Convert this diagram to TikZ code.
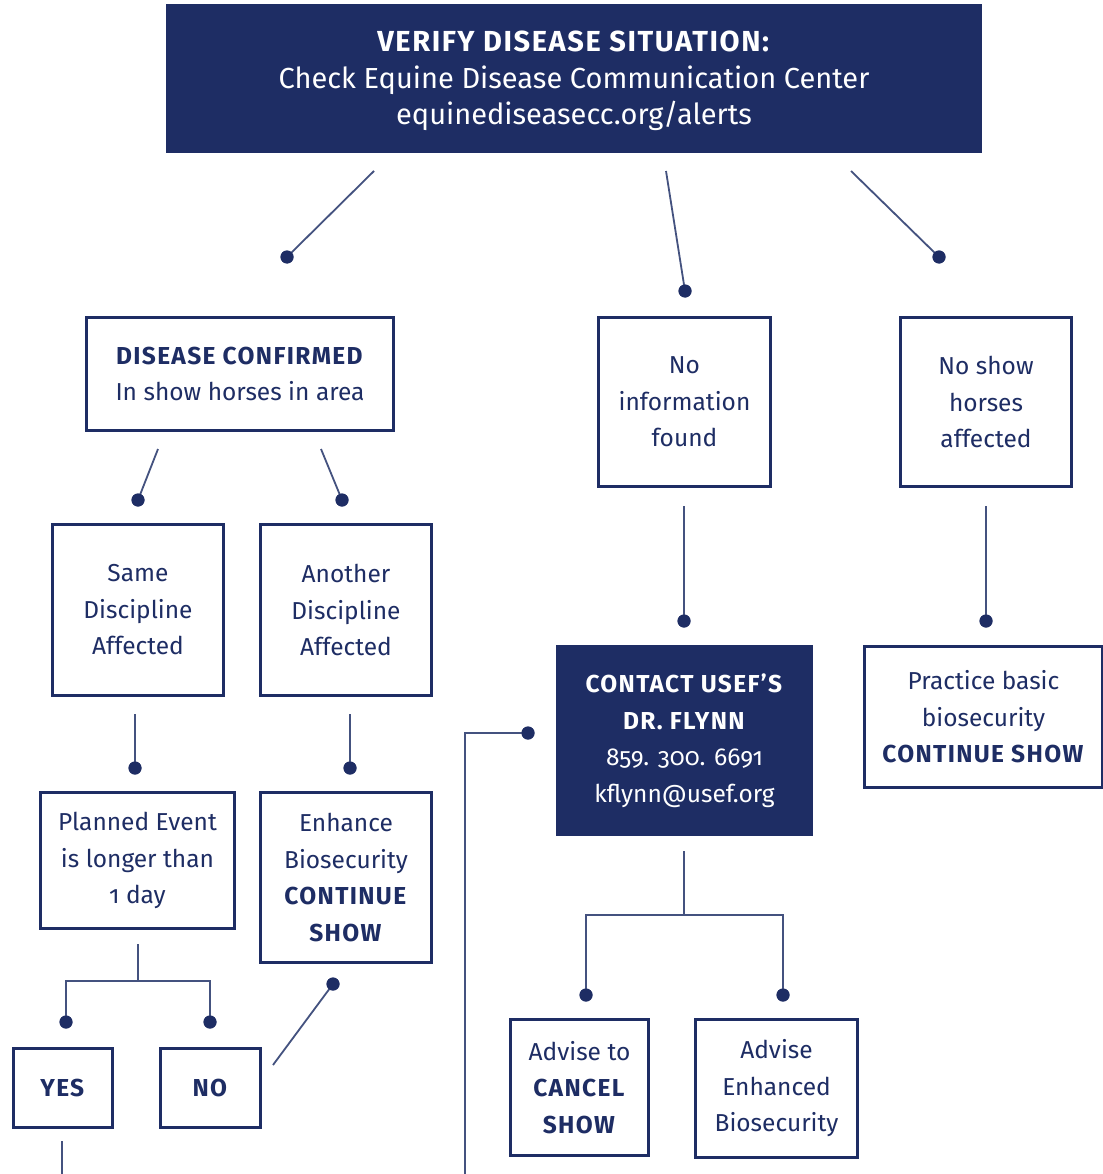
\documentclass[tikz,border=0pt]{standalone}
\usepackage{fontspec}
\setmainfont{Fira Sans}[Numbers=OldStyle,BoldFeatures={LetterSpace=5.5}]
\definecolor{navy}{HTML}{1E2D64}
\definecolor{wirecol}{HTML}{44527F}
\begin{document}
\begin{tikzpicture}[x=1pt,y=-1pt,
  box/.style={draw=navy,line width=3.2pt,text=navy,align=center,inner sep=0pt,
    font=\fontsize{24.5}{36.5}\selectfont},
  darkbox/.style={fill=navy,text=white,align=center,inner sep=0pt},
  dot/.style={circle,fill=navy,inner sep=0pt,minimum size=13pt},
  wire/.style={draw=wirecol,line width=1.8pt}]
\useasboundingbox[fill=white] (0,0) rectangle (1102,1174);

% header
\node[darkbox,minimum width=816pt,minimum height=149pt] (hdr) at (574,78.5) {};
\node[text=white,align=center,inner sep=0pt,
  font=\fontsize{29}{36.5}\selectfont] (hdrtext) at (574,81)
  {\textbf{VERIFY DISEASE SITUATION:}\\Check Equine Disease Communication Center\\equinediseasecc.org/alerts};

% boxes
\node[box,minimum width=307pt,minimum height=113pt] (dc) at (240,374)
  {\textbf{DISEASE CONFIRMED}\\In show horses in area};
\node[box,minimum width=172pt,minimum height=169pt] (noinfo) at (684.5,402)
  {No\\information\\found};
\node[box,minimum width=171pt,minimum height=169pt] (nohorse) at (986,402)
  {No show\\horses\\affected};
\node[box,minimum width=171pt,minimum height=171pt] (same) at (138,610)
  {Same\\Discipline\\Affected};
\node[box,minimum width=171pt,minimum height=171pt] (another) at (346,610)
  {Another\\Discipline\\Affected};
\node[box,minimum width=194pt,minimum height=136pt] (planned) at (137.5,860.5)
  {Planned Event\\is longer than\\1 day};
\node[box,minimum width=171pt,minimum height=170pt] (enhance) at (346,877.5)
  {Enhance\\Biosecurity\\\textbf{CONTINUE}\\\textbf{SHOW}};
\node[box,minimum width=99pt,minimum height=79pt] (yes) at (63,1088) {\textbf{YES}};
\node[box,minimum width=100pt,minimum height=79pt] (no) at (210.5,1088) {\textbf{NO}};
\node[darkbox,minimum width=257pt,minimum height=191pt,
  font=\fontsize{24.5}{36.5}\selectfont] (contact) at (684.5,740.5)
  {\textbf{CONTACT USEF'S}\\\textbf{DR. FLYNN}\\859. 300. 6691\\kflynn@usef.org};
\node[box,minimum width=238pt,minimum height=141pt] (practice) at (983.5,717)
  {Practice basic\\biosecurity\\\textbf{CONTINUE SHOW}};
\node[box,minimum width=138pt,minimum height=136pt] (cancel) at (579.5,1087.5)
  {Advise to\\\textbf{CANCEL}\\\textbf{SHOW}};
\node[box,minimum width=162pt,minimum height=138pt] (advenh) at (776.5,1088.5)
  {Advise\\Enhanced\\Biosecurity};

% dots
\node[dot] (d1) at (287,257) {};
\node[dot] (d2) at (685,291) {};
\node[dot] (d3) at (939,257) {};
\node[dot] (d4) at (138,500) {};
\node[dot] (d5) at (342,500) {};
\node[dot] (d6) at (135,768) {};
\node[dot] (d7) at (350,768) {};
\node[dot] (d8) at (66,1022) {};
\node[dot] (d9) at (210,1022) {};
\node[dot] (d10) at (333,984) {};
\node[dot] (d11) at (528,733) {};
\node[dot] (d12) at (684,621) {};
\node[dot] (d13) at (986,621) {};
\node[dot] (d14) at (586,995) {};
\node[dot] (d15) at (783,995) {};

% free ends
\coordinate (s1) at (374,171);
\coordinate (s2) at (666,171);
\coordinate (s3) at (851,171);
\coordinate (s4) at (158,449);
\coordinate (s5) at (321,449);
\coordinate (s6) at (135,714);
\coordinate (s7) at (350,714);
\coordinate (s8) at (138,944);
\coordinate (j8) at (138,981);
\coordinate (s10) at (273,1065);
\coordinate (s11) at (465,1174);
\coordinate (c11) at (465,733);
\coordinate (s12) at (684,506);
\coordinate (s13) at (986,506);
\coordinate (s14) at (684,851);
\coordinate (j14) at (684,915);
\coordinate (syes) at (62,1141);
\coordinate (eyes) at (62,1174);

% connectors
\draw[wire] (s1) -- (d1.center);
\draw[wire] (s2) -- (d2.center);
\draw[wire] (s3) -- (d3.center);
\draw[wire] (s4) -- (d4.center);
\draw[wire] (s5) -- (d5.center);
\draw[wire] (s6) -- (d6.center);
\draw[wire] (s7) -- (d7.center);
\draw[wire] (s8) -- (j8);
\draw[wire] (d8.center) |- (j8) -| (d9.center);
\draw[wire] (s10) -- (d10.center);
\draw[wire] (s11) -- (c11) -- (d11.center);
\draw[wire] (s12) -- (d12.center);
\draw[wire] (s13) -- (d13.center);
\draw[wire] (s14) -- (j14);
\draw[wire] (d14.center) |- (j14) -| (d15.center);
\draw[wire] (syes) -- (eyes);

% redraw dots on top
\foreach \d in {d1,d2,d3,d4,d5,d6,d7,d8,d9,d10,d11,d12,d13,d14,d15}
  \fill[navy] (\d) circle (6.5pt);
\end{tikzpicture}
\end{document}
